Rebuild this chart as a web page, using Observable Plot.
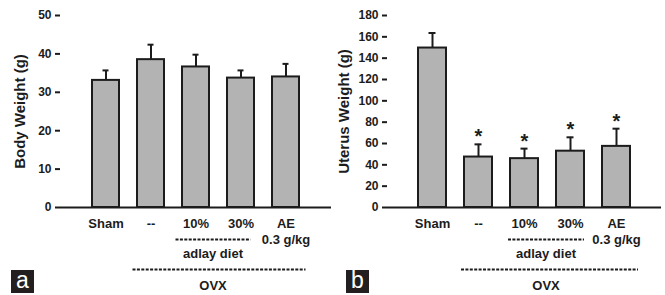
<!DOCTYPE html>
<html>
<head>
<meta charset="utf-8">
<script src="https://cdn.jsdelivr.net/npm/d3@7"></script>
<script src="https://cdn.jsdelivr.net/npm/@observablehq/plot@0.6"></script>
<style>
  html, body { margin: 0; padding: 0; background: #fff; }
  #wrap { display: flex; width: 665px; height: 295px; }
  svg { display: block; }
</style>
</head>
<body>
<div id="wrap"></div>
<script>
// ---- data ----
const categories = ["Sham", "--", "10%", "30%", "AE"];
const categoryLabels = ["Sham", "--", "10%", "30%", "AE\n0.3 g/kg"];

const bodyMean = [33.1, 38.5, 36.6, 33.7, 34.0];
const bodySD   = [2.6, 3.9, 3.2, 2.0, 3.4];
const bodySig  = [false, false, false, false, false];
const bodyTicks = [0, 10, 20, 30, 40, 50];

const uterusMean = [149.5, 47.3, 45.8, 52.8, 57.3];
const uterusSD   = [14.1, 11.9, 9.4, 13.0, 16.6];
const uterusSig  = [false, true, true, true, true];
const uterusTicks = [0, 20, 40, 60, 80, 100, 120, 140, 160, 180];

const groupLabels = ["adlay diet", "OVX"];
const groupFrom = ["10%", "--"];
const groupTo = ["30%", "AE"];

const panelLetters = ["a", "b"];
const yLabels = ["Body Weight (g)", "Uterus Weight (g)"];

// ---- drawing ----
function panel({mean, sd, sig, ticks, yLabel, letter, width, marginLeft, marginRight, labelDx, letterX, adlayOff, ovxOff}) {
  const data = categories.map((c, i) => ({cat: c, mean: mean[i], top: mean[i] + sd[i], sig: sig[i]}));
  const labelOf = new Map(categories.map((c, i) => [c, categoryLabels[i]]));
  const ink = "#1c1c1c";
  const font = "'Liberation Sans', Arial, sans-serif";
  const plot = Plot.plot({
    width, height: 295,
    marginLeft, marginRight, marginTop: 15, marginBottom: 88,
    style: {fontFamily: font, fontWeight: "bold", fontSize: "12px", color: ink, background: "#fff"},
    x: {domain: categories, paddingInner: 0.39, paddingOuter: 0.67, axis: null},
    y: {domain: [ticks[0], ticks[ticks.length - 1]], axis: null},
    marks: [
      Plot.barY(data, {x: "cat", y: "mean", fill: "#b3b3b3", stroke: ink, strokeWidth: 2}),
      Plot.ruleX(data, {x: "cat", y1: "mean", y2: "top", stroke: ink, strokeWidth: 2}),
      Plot.tickY(data, {x: "cat", y: "top", stroke: ink, strokeWidth: 2, insetLeft: 10.5, insetRight: 10.5}),
      Plot.text(data.filter(d => d.sig), {x: "cat", y: "top", text: () => "*", fontSize: 20, fontWeight: "bold", lineAnchor: "bottom", dy: -1, fill: ink}),
      Plot.ruleY([0], {stroke: ink, strokeWidth: 2}),
      Plot.axisY({ticks, tickSize: 5, tickPadding: 4, line: true, strokeWidth: 2, label: null, fontSize: 12, fontWeight: "bold", tickFormat: d => String(d)}),
      Plot.axisX({tickSize: 0, tickPadding: 9, fontSize: 13, fontWeight: "bold", lineHeight: 1.23, label: null, tickFormat: d => labelOf.get(d)}),
      Plot.text([yLabel], {frameAnchor: "left", textAnchor: "middle", lineAnchor: "middle", rotate: -90, dx: labelDx, fontSize: 15, fontWeight: "bold", fill: ink})
    ]
  });

  // group annotations below the axis, positioned with the plot's own x scale
  const xs = plot.scale("x");
  const bw = xs.bandwidth;
  const cx = c => xs.apply(c) + bw / 2;
  const svg = d3.select(plot);
  const g = svg.append("g").attr("fill", ink).attr("stroke", "none")
    .attr("font-family", font).attr("font-weight", "bold").attr("font-size", 13);
  const offs = [adlayOff, ovxOff];
  const lineY = [239.5, 269.5];
  const textY = [258.3, 289.5];
  let adlayCenter = 0;
  groupLabels.forEach((lab, i) => {
    const x1 = cx(groupFrom[i]) + offs[i][0];
    const x2 = cx(groupTo[i]) + offs[i][1];
    g.append("line").attr("x1", x1).attr("x2", x2).attr("y1", lineY[i]).attr("y2", lineY[i])
      .attr("stroke", ink).attr("stroke-width", 2).attr("stroke-dasharray", "3 1.4");
    if (i === 0) adlayCenter = (x1 + x2) / 2;
    g.append("text").attr("x", adlayCenter).attr("y", textY[i]).attr("text-anchor", "middle").text(lab);
  });

  // panel letter box
  svg.append("rect").attr("x", letterX).attr("y", 270).attr("width", 23).attr("height", 23).attr("fill", "#231f20");
  svg.append("text").attr("x", letterX + 11.5).attr("y", 288).attr("text-anchor", "middle")
    .attr("fill", "#fff").attr("font-family", font).attr("font-weight", "normal")
    .attr("font-size", 23).text(letter);
  return plot;
}

const wrap = document.getElementById("wrap");
wrap.appendChild(panel({
  mean: bodyMean, sd: bodySD, sig: bodySig, ticks: bodyTicks, yLabel: yLabels[0], letter: panelLetters[0],
  width: 333, marginLeft: 60, marginRight: 2, labelDx: -40, letterX: 11,
  adlayOff: [-20, 10], ovxOff: [-18, 20]
}));
wrap.appendChild(panel({
  mean: uterusMean, sd: uterusSD, sig: uterusSig, ticks: uterusTicks, yLabel: yLabels[1], letter: panelLetters[1],
  width: 332, marginLeft: 54, marginRight: 4, labelDx: -43, letterX: 13,
  adlayOff: [-16, 14], ovxOff: [-17, 22]
}));
</script>
</body>
</html>
